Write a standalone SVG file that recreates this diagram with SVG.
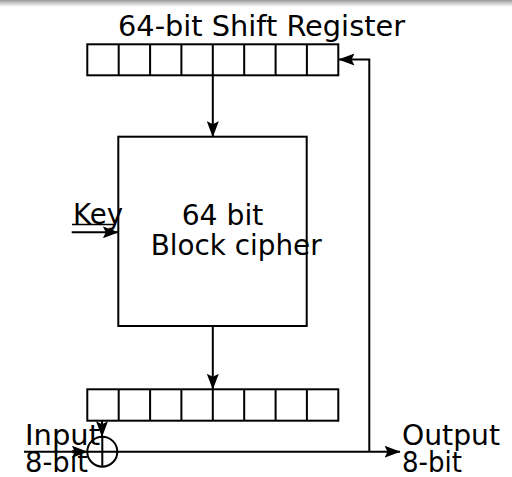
<svg xmlns="http://www.w3.org/2000/svg" width="512" height="477" viewBox="0 0 512 477">
<defs>
<linearGradient id="topbar" x1="0" y1="0" x2="0" y2="1">
<stop offset="0" stop-color="#9a9a9a"/>
<stop offset="0.5" stop-color="#d0d0d0"/>
<stop offset="1" stop-color="#ffffff"/>
</linearGradient>
<marker id="arr" viewBox="0 0 16 12" refX="15.5" refY="6" markerWidth="16" markerHeight="12" markerUnits="userSpaceOnUse" orient="auto">
<path d="M0,0 L16,6 L0,12 L3,6 Z" fill="#000"/>
</marker>
</defs>
<style>
.ln{fill:none;stroke:#000;stroke-width:2}
.box{fill:none;stroke:#000;stroke-width:2}
.t{font-family:"DejaVu Sans","Liberation Sans",sans-serif;font-size:28px;fill:#000}
</style>
<rect x="0" y="0" width="512" height="7" fill="url(#topbar)"/>
<g id="shift-register">
<rect class="box" x="87.3" y="44.3" width="251" height="31"/>
<path class="ln" d="M118.7,44.3V75.3M150.1,44.3V75.3M181.4,44.3V75.3M212.8,44.3V75.3M244.2,44.3V75.3M275.6,44.3V75.3M306.9,44.3V75.3"/>
<text class="t" x="118" y="36" textLength="287" lengthAdjust="spacingAndGlyphs">64-bit Shift Register</text>
</g>
<g id="block-cipher">
<rect class="box" x="118.3" y="136.7" width="188.4" height="189.3"/>
<text class="t" x="181.7" y="225" textLength="81.6" lengthAdjust="spacingAndGlyphs">64 bit</text>
<text class="t" x="150.7" y="255" textLength="171" lengthAdjust="spacingAndGlyphs">Block cipher</text>
</g>
<g id="output-register">
<rect class="box" x="87.3" y="389.3" width="251" height="31.4"/>
<path class="ln" d="M118.7,389.3V420.7M150.1,389.3V420.7M181.4,389.3V420.7M212.8,389.3V420.7M244.2,389.3V420.7M275.6,389.3V420.7M306.9,389.3V420.7"/>
</g>
<g id="xor">
<circle class="box" cx="102.3" cy="451.7" r="15"/>
<path class="ln" d="M87.3,451.7H117.3M102.3,436.7V466.7"/>
</g>
<g id="key">
<text class="t" x="73" y="224" textLength="50" lengthAdjust="spacingAndGlyphs">Key</text>
<line x1="72" y1="224.5" x2="114" y2="224.5" stroke="#000" stroke-width="1.4"/>
</g>
<g id="input-label">
<text class="t" x="25" y="445" textLength="75" lengthAdjust="spacingAndGlyphs">Input</text>
<text class="t" x="25" y="472" textLength="63" lengthAdjust="spacingAndGlyphs">8-bit</text>
</g>
<g id="output-label">
<text class="t" x="402" y="445" textLength="98" lengthAdjust="spacingAndGlyphs">Output</text>
<text class="t" x="402" y="472" textLength="60" lengthAdjust="spacingAndGlyphs">8-bit</text>
</g>
<g id="connectors">
<line class="ln" x1="212.8" y1="75.3" x2="212.8" y2="136.7" marker-end="url(#arr)"/>
<line class="ln" x1="212.8" y1="326" x2="212.8" y2="389.3" marker-end="url(#arr)"/>
<line class="ln" x1="71.7" y1="232.3" x2="118.3" y2="232.3" marker-end="url(#arr)"/>
<line class="ln" x1="102" y1="420.7" x2="102" y2="436.7" marker-end="url(#arr)"/>
<line class="ln" x1="24" y1="451.7" x2="87.3" y2="451.7" marker-end="url(#arr)"/>
<line class="ln" x1="117.3" y1="451.7" x2="400" y2="451.7" marker-end="url(#arr)"/>
<polyline class="ln" points="369.3,451.7 369.3,59.5 339,59.5" marker-end="url(#arr)"/>
</g>
</svg>
